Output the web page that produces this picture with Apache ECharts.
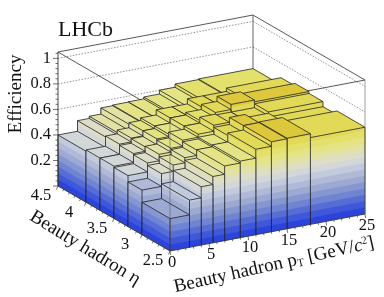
<!DOCTYPE html>
<html><head><meta charset="utf-8">
<style>html,body{margin:0;padding:0;background:#fff;overflow:hidden}#c{width:384px;height:297px}</style>
<script src="https://cdn.jsdelivr.net/npm/echarts@6/dist/echarts.min.js"></script>
</head><body><div id="c"></div>
<script>
var ptEdges=[0,2.5,4,5.5,7,9,11,13,15,18,25];
var etaEdges=[2.5,3,3.25,3.5,3.75,4,4.5];
var eff_eta_2p5_3   =[.254,.37,.457,.52,.585,.60,.67,.705,.71,.68];
var eff_eta_3_3p25  =[.35,.45,.50,.54,.583,.596,.65,.705,.68,.65];
var eff_eta_3p25_3p5=[.40,.47,.52,.55,.596,.62,.667,.66,.66,.69];
var eff_eta_3p5_3p75=[.41,.48,.515,.56,.58,.62,.64,.68,.72,.705];
var eff_eta_3p75_4  =[.41,.49,.52,.56,.58,.62,.62,.66,.66,.686];
var eff_eta_4_4p5   =[.40,.483,.50,.548,.553,.555,.57,.60,.625,.63];
var effRows=[eff_eta_2p5_3,eff_eta_3_3p25,eff_eta_3p25_3p5,eff_eta_3p5_3p75,eff_eta_3p75_4,eff_eta_4_4p5];
var zTicks=[0.2,0.4,0.6,0.8,1];
var etaTicks=[2.5,3,3.5,4,4.5];
var ptTicks=[0,5,10,15,20,25];
var bandColors=['#2b45dc','#3f57da','#576dd6','#6f84d2','#8696d0','#9ca9d2','#b0bad6','#c2cade','#d3d7d8','#dedec6','#e2e2a4','#e4e484','#e4e06c','#e2da56','#dcc83a','#d8be30','#d4b428','#d0aa20','#cca018','#c89610','#c48c08'];
var zMax=1.05, lm=echarts.number.linearMap;
var O=[170,251],PX=[195,-37],EX=[-112,-65],ZS=127.6;
function P(pt,eta,z){var a=lm(pt,[0,25],[0,1]),b=lm(eta,[2.5,4.5],[0,1]);
  return [O[0]+PX[0]*a+EX[0]*b, O[1]+PX[1]*a+EX[1]*b-ZS*z];}
function poly(pts,fill,stroke,lw,op){return {type:'polygon',shape:{points:pts},style:{fill:fill||'none',stroke:stroke||null,lineWidth:lw||0,opacity:op==null?1:op}};}
function line(a,b,color,lw,dash,op){return {type:'line',shape:{x1:a[0],y1:a[1],x2:b[0],y2:b[1]},style:{stroke:color,lineWidth:lw,lineDash:dash||null,opacity:op==null?1:op}};}
function txt(x,y,s,font,align,rot,rich){return {type:'text',x:x,y:y,rotation:rot||0,style:{text:s,font:font,fill:'#111',align:align||'center',verticalAlign:'middle',rich:rich}};}
function sideBands(a,b,z,out){
  for(var i=0;i*0.05<z;i++){var z0=i*0.05,c=bandColors[i];
    out.push(poly([P(a[0],a[1],z0),P(b[0],b[1],z0),P(b[0],b[1],z),P(a[0],a[1],z)],c));}
}
var cells=[];
for(var p=ptEdges.length-2;p>=0;p--)for(var e=etaEdges.length-2;e>=0;e--)
  cells.push([ptEdges[p],ptEdges[p+1],etaEdges[e],etaEdges[e+1],effRows[e][p]]);
var EDGE='#222';
function renderBar(params,api){
  var p0=api.value(0),p1=api.value(1),e0=api.value(2),e1=api.value(3),z=api.value(4),ch=[];
  sideBands([p0,e1],[p0,e0],z,ch);
  sideBands([p0,e0],[p1,e0],z,ch);
  var top=bandColors[Math.min(bandColors.length-1,Math.floor(z/0.05))];
  ch.push(poly([P(p0,e0,z),P(p1,e0,z),P(p1,e1,z),P(p0,e1,z)],top,EDGE,0.8));
  ch.push(line(P(p0,e0,0),P(p0,e0,z),EDGE,0.8));
  ch.push(line(P(p1,e0,0),P(p1,e0,z),EDGE,0.8));
  ch.push(line(P(p0,e1,0),P(p0,e1,z),EDGE,0.8));
  return {type:'group',children:ch};
}
function renderBack(){
  var ch=[],G='#777';
  zTicks.forEach(function(z){ if(z<0.5)return;
    ch.push(line(P(0,4.5,z),P(25,4.5,z),G,0.8,[1.5,1.5]));
    ch.push(line(P(25,4.5,z),P(25,2.5,z),G,0.8,[1.5,1.5]));});
  ch.push(line(P(0,4.5,zMax),P(25,4.5,zMax),'#444',0.9));
  ch.push(line(P(25,4.5,zMax),P(25,2.5,zMax),'#444',0.9));
  ch.push(line(P(25,4.5,0),P(25,4.5,zMax),'#555',0.9));
  ch.push(line(P(0,4.5,zMax),P(0,2.5,zMax),'#444',0.9));
  ch.push(line(P(0,2.5,zMax),P(25,2.5,zMax),'#444',0.9));
  return {type:'group',children:ch};
}
function renderFront(){
  var ch=[],K='#333';
  ch.push(line(P(0,2.5,0),P(0,2.5,zMax),'#555',1,null,0.55));
  ch.push(line(P(25,2.5,0),P(25,2.5,zMax),'#777',1,null,0.7));
  ch.push(line(P(0,4.5,0),P(0,4.5,zMax),K,0.9));
  ch.push(line(P(0,4.5,0),P(0,2.5,0),K,0.9));
  ch.push(line(P(0,2.5,0),P(25,2.5,0),K,0.9));
  var f='16.5px "Liberation Serif"';
  for(var i=0;i<=26;i++){var zz=i*0.04,pa=P(0,4.5,zz),maj=i%5===0;
    ch.push(line(pa,[pa[0]-(maj?5:2.5),pa[1]],K,0.7));}
  zTicks.forEach(function(z){var a=P(0,4.5,z);ch.push(txt(a[0]-7,a[1],String(z),f,'right'));});
  for(var i=0;i<=40;i++){var et=2.5+i*0.05,a=P(0,et,0),maj=i%10===0;
    if(i%2===0)ch.push(line(a,[a[0]+(maj?-1.5:-0.8),a[1]+(maj?3.5:2)],K,0.7));}
  for(var i=0;i<=25;i++){var a=P(i,2.5,0),maj=i%5===0;
    ch.push(line(a,[a[0]+(maj?0.6:0.3),a[1]+(maj?4:2)],K,0.7));}
  etaTicks.forEach(function(t){var a=P(0,t,0);ch.push(txt(a[0]-17,a[1]+10,String(t),f,'center'));});
  ptTicks.forEach(function(t){var a=P(t,2.5,0);ch.push(txt(a[0]+2,a[1]+11.5,String(t),f,'center'));});
  ch.push(txt(58,30,'LHCb','22px "Liberation Serif"','left'));
  ch.push(txt(16,94,'Efficiency','19px "Liberation Serif"','center',Math.PI/2));
  ch.push(txt(85,248,'Beauty hadron η','19px "Liberation Serif"','center',-0.55));
  ch.push(txt(274,265,'{a|Beauty hadron p}{s|T}{a| [GeV/}{i|c}{u|2}{a|]}','19px "Liberation Serif"','center',0.22,{
    a:{font:'19px "Liberation Serif"',fill:'#111'},
    s:{font:'11px "Liberation Serif"',fill:'#111',verticalAlign:'bottom'},
    i:{font:'italic 19px "Liberation Serif"',fill:'#111'},
    u:{font:'11px "Liberation Serif"',fill:'#111',verticalAlign:'top'}}));
  return {type:'group',children:ch};
}
var chart=echarts.init(document.getElementById('c'),null,{renderer:'canvas',width:384,height:297});
chart.setOption({animation:false,backgroundColor:'#fff',series:[
 {type:'custom',coordinateSystem:'none',z:1,silent:true,clip:false,data:[[0]],renderItem:renderBack},
 {type:'custom',coordinateSystem:'none',z:2,silent:true,clip:false,data:cells,renderItem:renderBar},
 {type:'custom',coordinateSystem:'none',z:3,silent:true,clip:false,data:[[0]],renderItem:renderFront}
]});
</script></body></html>
